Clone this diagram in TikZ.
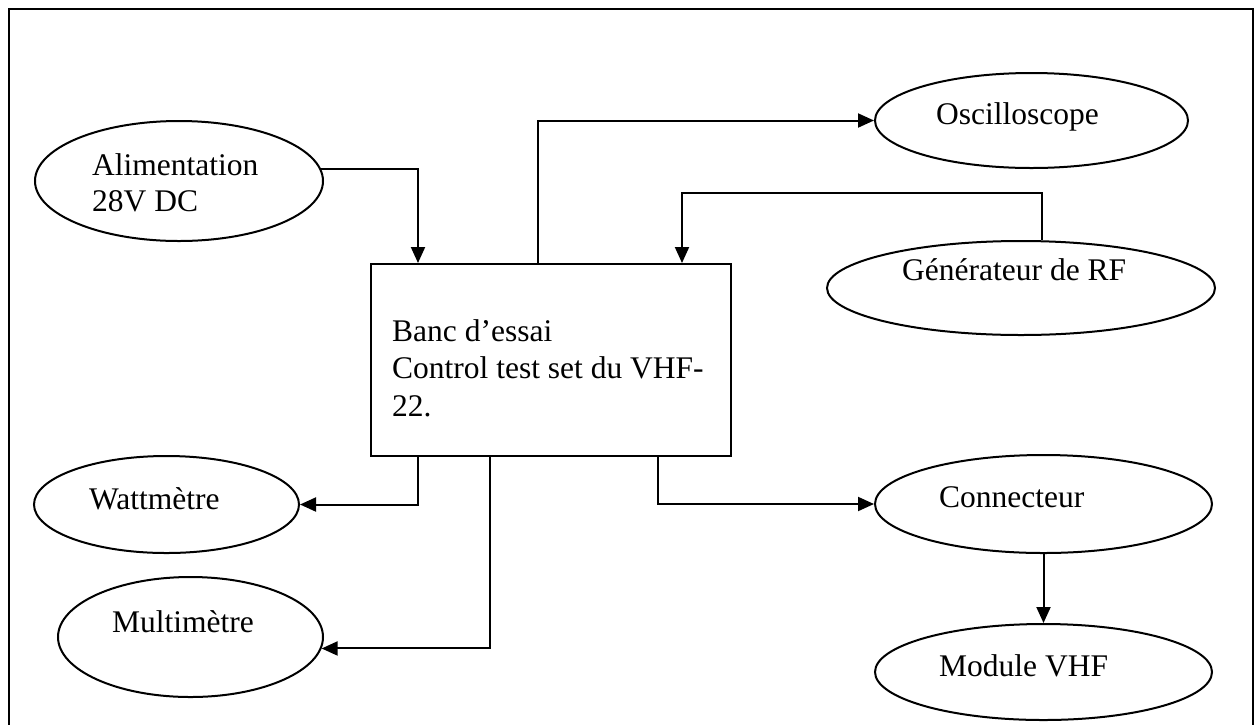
\documentclass[tikz,border=0pt]{standalone}
\usepackage{fontspec}
\setmainfont{Liberation Serif}
\usetikzlibrary{arrows.meta,shapes.geometric}
\begin{document}
\begin{tikzpicture}[x=1pt,y=-1pt,
  every node/.style={font=\fontsize{31.5}{37.5}\selectfont},
  unit/.style={draw, ellipse, line width=2pt, inner sep=0pt},
  lbl/.style={anchor=base west, inner sep=0pt},
  link/.style={line width=2pt, -{Triangle[length=16pt,width=14pt]}}
]
\useasboundingbox (0,0) rectangle (1255,724);
% page frame
\draw[line width=2pt] (9,740) -- (9,9) -- (1253,9) -- (1253,740);

% central test bench
\node[draw, line width=2pt, minimum width=360pt, minimum height=192pt, inner sep=0pt] (box) at (551,360) {};
\node[lbl] (boxa) at (392,341) {Banc d’essai};
\node[lbl] (boxb) at (392,378) {Control test set du VHF-};
\node[lbl] (boxc) at (392,416) {22.};

% instruments
\node[unit, minimum width=288pt, minimum height=120pt] (alim) at (179,181) {};
\node[lbl] (alima) at (92,175) {Alimentation};
\node[lbl] (alimb) at (92,211) {28V DC};

\node[unit, minimum width=313pt, minimum height=95pt] (osc) at (1031.5,120.5) {};
\node[lbl] (osct) at (936,124) {Oscilloscope};

\node[unit, minimum width=388pt, minimum height=94pt] (gen) at (1021,288) {};
\node[lbl] (gent) at (902,280) {Générateur de RF};

\node[unit, minimum width=265pt, minimum height=97pt] (watt) at (166.5,504.5) {};
\node[lbl] (wattt) at (89,509) {Wattmètre};

\node[unit, minimum width=265pt, minimum height=120pt] (multi) at (190.5,637) {};
\node[lbl] (multit) at (112,632) {Multimètre};

\node[unit, minimum width=337pt, minimum height=98pt] (conn) at (1043.5,504) {};
\node[lbl] (connt) at (939,507) {Connecteur};

\node[unit, minimum width=337pt, minimum height=96pt] (modvhf) at (1043.5,672) {};
\node[lbl] (modt) at (939,676) {Module VHF};

% attachment points on the bench
\coordinate (bAin) at ([xshift=48pt]box.north west);
\coordinate (bOsc) at ([xshift=168pt]box.north west);
\coordinate (bGen) at ([xshift=312pt]box.north west);
\coordinate (bWatt) at ([xshift=48pt]box.south west);
\coordinate (bMul) at ([xshift=120pt]box.south west);
\coordinate (bCon) at ([xshift=288pt]box.south west);
\coordinate (genbend) at (1042,193);

% connections
\draw[link] (alim.5) -| (bAin);
\draw[link] (bOsc) |- (osc.west);
\draw[link] (genbend |- gen.north) -- (genbend) -| (bGen);
\draw[link] (bWatt) |- (watt.east);
\draw[link] (bMul) |- (multi.-5.3);
\draw[link] (bCon) |- (conn.west);
\draw[link] (conn.south) -- (modvhf.north);
\end{tikzpicture}
\end{document}
